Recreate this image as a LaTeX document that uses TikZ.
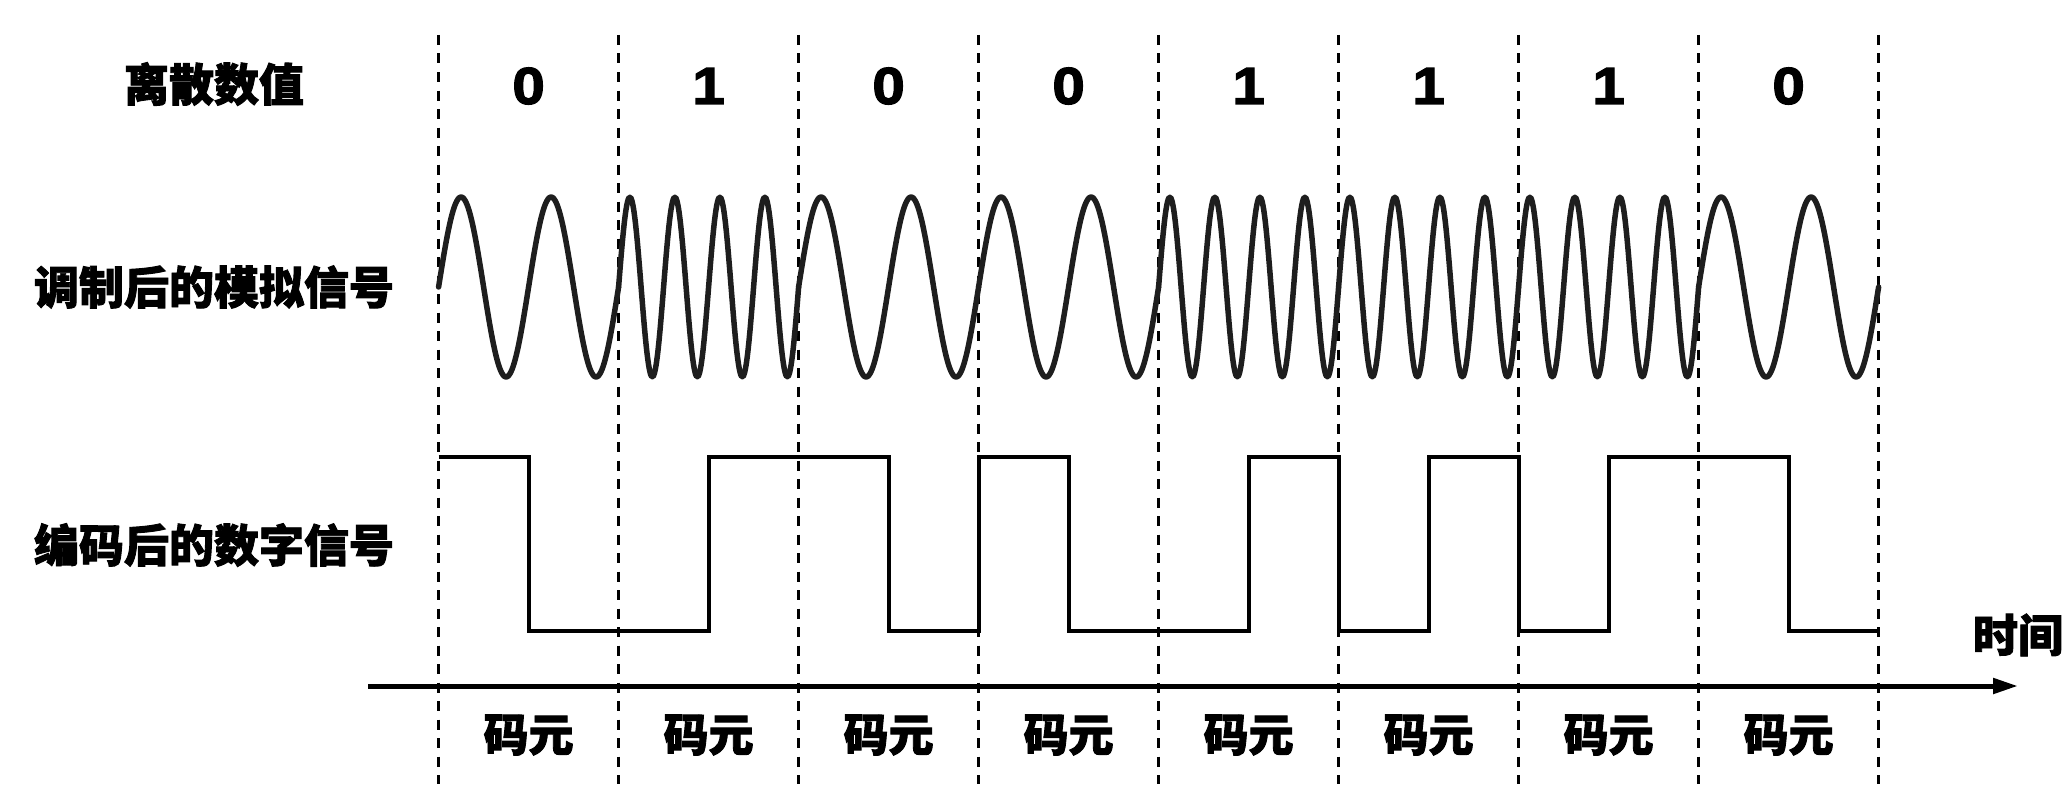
\documentclass[tikz,border=0pt]{standalone}
\usepackage{fontspec}
\setmainfont{Liberation Sans}
\newfontfamily\cjk{Noto Sans CJK SC}[BoldFeatures={FakeBold=2}]
\newfontfamily\digits{Liberation Sans}[BoldFeatures={FakeBold=2.5,FakeStretch=1.12}]
\usepackage{tikz}
\usetikzlibrary{arrows.meta}
\usetikzlibrary{calc}
\definecolor{wavecolor}{HTML}{1E1E1E}

\tikzset{
  lbl/.style={font=\cjk\bfseries\fontsize{45}{50}\selectfont, inner sep=0pt},
  bit/.style={font=\digits\bfseries\fontsize{52}{60}\selectfont, inner sep=0pt},
  slot/.style={black, line width=2.5pt, dash pattern=on 10pt off 8.5pt},
  wave/.style={wavecolor, line width=5.5pt, line cap=round, line join=round},
  level/.style={black, line width=4pt, line join=miter}
}

\begin{document}
\begin{tikzpicture}[x=1pt,y=-1pt]
\useasboundingbox (0,0) rectangle (2068,784);

% row titles
\node[lbl] (title) at (214,84) {离散数值};
\node[lbl] (analog) at (214,287) {调制后的模拟信号};
\node[lbl] (digital) at (214,545) {编码后的数字信号};

% symbol borders
\foreach \k in {0,...,8}
    \draw[slot] (438.6+180*\k,35) -- (438.6+180*\k,784);

% bits and symbol names
\foreach \b [count=\k from 0] in {0,1,0,0,1,1,1,0} {
    \node[bit] (bit\k) at (528.6+180*\k,86) {\b};
    \node[lbl] (sym\k) at (528.6+180*\k,735) {码元};
}

% modulated carrier: 2 periods for 0, 4 periods for 1
\foreach \n [count=\k from 0] in {2,4,2,2,4,4,4,2}
    \draw[wave,domain=0:180,samples=121,smooth] plot ({438.6+180*\k+\x},{287-90*sin(2*\n*\x)});

% coded signal
\draw[level] (438.6,457) -- (528.6,457) -- (528.6,631) -- (708.6,631) -- (708.6,457)
    -- (888.6,457) -- (888.6,631) -- (978.6,631) -- (978.6,457) -- (1068.6,457)
    -- (1068.6,631) -- (1248.6,631) -- (1248.6,457) -- (1338.6,457) -- (1338.6,631)
    -- (1428.6,631) -- (1428.6,457) -- (1518.6,457) -- (1518.6,631) -- (1608.6,631)
    -- (1608.6,457) -- (1788.6,457) -- (1788.6,631) -- (1878.6,631);

% time axis
\coordinate (t0) at (368,686);
\coordinate (t1) at (2018,686);
\draw[line width=5pt,-{Triangle[length=25pt,width=15pt]}] (t0) -- (t1);
\node[lbl] (time) at (2018,635) {时间};
\end{tikzpicture}
\end{document}
